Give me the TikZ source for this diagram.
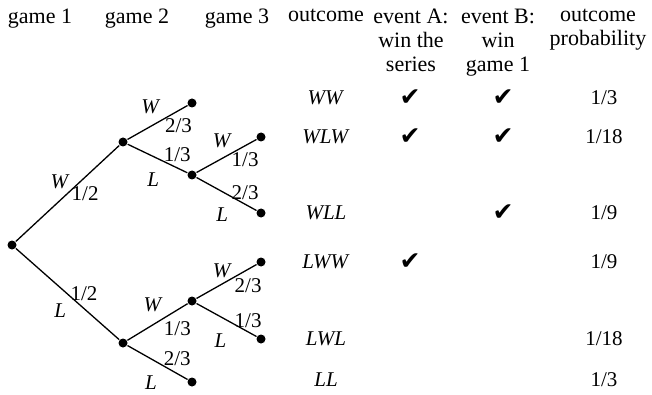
\documentclass[tikz,border=0pt]{standalone}
\usepackage{fontspec}
\setmainfont{Liberation Serif}
\newfontfamily\symfont{DejaVu Sans}
\usepackage{tikz}
\usetikzlibrary{positioning}

\newcommand{\chk}{{\symfont\fontsize{25}{25}\selectfont ✔}}

\begin{document}
\begin{tikzpicture}[x=1pt,y=-1pt,line width=1.3pt,
  dot/.style={circle,fill,inner sep=0pt,minimum size=9pt},
  lab/.style={inner sep=0pt},
  hd/.style={inner sep=0pt,align=center,anchor=north,font=\fontsize{22}{24}\selectfont}]
\useasboundingbox (0,0) rectangle (652,395);
\fontsize{21}{23.5}\selectfont
% headers
\node[hd] (h1) at (40,8) {game 1};
\node[hd] (h2) at (137,8) {game 2};
\node[hd] (h3) at (237,8) {game 3};
\node[hd] (h4) at (326,8) {outcome};
\node[hd] (h5) at (411,8) {event A:\\win the\\series};
\node[hd] (h6) at (498,8) {event B:\\win\\game 1};
\node[hd] (h7) at (598,8) {outcome\\probability};
% tree
\node[dot] (r) at (12,245) {};
\node[dot] (w) at (123,142) {};
\node[dot] (l) at (123,343) {};
\node[dot] (ww) at (192,103) {};
\node[dot] (wl) at (192,175) {};
\node[dot] (wlw) at (261,137) {};
\node[dot] (wll) at (261,213) {};
\node[dot] (lw) at (192,301) {};
\node[dot] (lww) at (261,262) {};
\node[dot] (lwl) at (261,339) {};
\node[dot] (ll) at (192,382) {};
\draw (r) -- (w) node[lab,pos=.43,above=11pt]{\textit{W}} node[lab,pos=.67,below=9pt]{1/2};
\draw (r) -- (l) node[lab,pos=.66,above=7.5pt]{1/2} node[lab,pos=.43,below=15pt]{\textit{L}};
\draw (w) -- (ww) node[lab,pos=.39,above=12pt]{\textit{W}} node[lab,pos=.85,below=7pt]{2/3};
\draw (w) -- (wl) node[lab,pos=.83,above=6pt]{1/3} node[lab,pos=.43,below=16pt]{\textit{L}};
\draw (wl) -- (wlw) node[lab,pos=.43,above=10pt]{\textit{W}} node[lab,pos=.81,below=6pt]{1/3};
\draw (wl) -- (wll) node[lab,pos=.81,above=4pt]{2/3} node[lab,pos=.43,below=15pt]{\textit{L}};
\draw (l) -- (lw) node[lab,pos=.43,above=12pt]{\textit{W}} node[lab,pos=.83,below=11pt]{1/3};
\draw (l) -- (ll) node[lab,pos=.83,above=7pt]{2/3} node[lab,pos=.39,below=16pt]{\textit{L}};
\draw (lw) -- (lww) node[lab,pos=.43,above=5pt]{\textit{W}} node[lab,pos=.86,below=9pt]{2/3};
\draw (lw) -- (lwl) node[lab,pos=.86,above=4pt]{1/3} node[lab,pos=.4,below=16pt]{\textit{L}};
% outcomes
\node (o1) at (326,98) {\textit{WW}};
\node (o2) at (326,137) {\textit{WLW}};
\node (o3) at (326,213) {\textit{WLL}};
\node (o4) at (326,262) {\textit{LWW}};
\node (o5) at (326,339) {\textit{LWL}};
\node (o6) at (326,380) {\textit{LL}};
% events
\node (a1) at (410,98) {\chk};
\node (a2) at (410,137) {\chk};
\node (a4) at (410,262) {\chk};
\node (b1) at (503,98) {\chk};
\node (b2) at (503,137) {\chk};
\node (b3) at (503,213) {\chk};
% probabilities
\node (p1) at (604,98) {1/3};
\node (p2) at (604,137) {1/18};
\node (p3) at (604,213) {1/9};
\node (p4) at (604,262) {1/9};
\node (p5) at (604,339) {1/18};
\node (p6) at (604,380) {1/3};
\end{tikzpicture}
\end{document}
